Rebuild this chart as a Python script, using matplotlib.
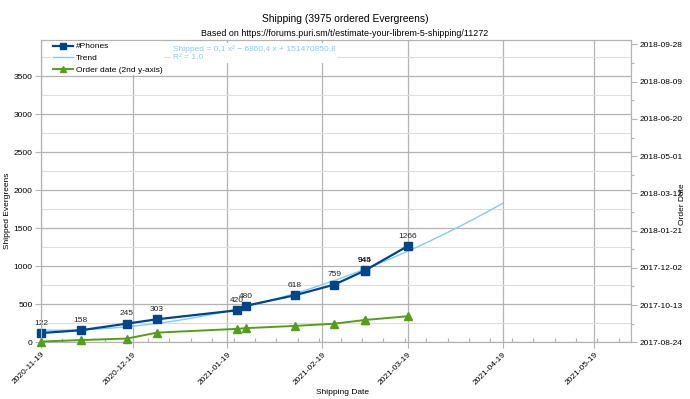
import numpy as np
import pandas as pd
import matplotlib
matplotlib.use("Agg")
import matplotlib.pyplot as plt
import matplotlib.dates as mdates
from matplotlib.ticker import MultipleLocator, FixedLocator
from matplotlib.lines import Line2D

plt.rcParams['font.family'] = ['Liberation Sans', 'DejaVu Sans']

# ---------------- data ----------------
ship_dates = ['2020-11-19', '2020-12-02', '2020-12-17', '2020-12-27', '2021-01-22',
              '2021-01-25', '2021-02-10', '2021-02-23', '2021-03-05', '2021-03-05', '2021-03-19']
shipped = [122, 158, 245, 303, 420, 480, 618, 759, 944, 945, 1266]
order_dates = ['2017-08-25', '2017-08-27', '2017-08-29', '2017-09-06', '2017-09-11',
               '2017-09-12', '2017-09-15', '2017-09-18', '2017-09-23', '2017-09-23', '2017-09-28']
order_ticks = ['2017-08-24', '2017-10-13', '2017-12-02', '2018-01-21', '2018-03-12',
               '2018-05-01', '2018-06-20', '2018-08-09', '2018-09-28']
x_range = ['2020-11-19', '2021-05-31']
order_top = '2018-10-04'
trend_end = '2021-04-19'
y_max = 3975
title = 'Shipping (3975 ordered Evergreens)'
subtitle = 'Based on https://forums.puri.sm/t/estimate-your-librem-5-shipping/11272'
equation = 'Shipped = 0,1 x² − 6860,4 x + 151470850,8\nR² = 1,0'

# ---------------- styling ----------------
BLUE = '#004586'
TREND = '#83caff'
GREEN = '#579d1c'
GRID = '#b3b3b3'
MINOR = '#dddddd'
FS = 6.0

W, H = 690, 399
fig = plt.figure(figsize=(W / 100, H / 100), dpi=100)
L, R, T, B = 41, 631, 40, 342.3
ax = fig.add_axes([L / W, 1 - B / H, (R - L) / W, (B - T) / H])

xd = pd.to_datetime(ship_dates)
od = pd.to_datetime(order_dates)

# trend (quadratic fit of the shipped series)
xnum = mdates.date2num(xd)
coef = np.polyfit(xnum, shipped, 2)
tx = np.linspace(mdates.date2num(pd.Timestamp(x_range[0])),
                 mdates.date2num(pd.Timestamp(trend_end)), 200)
ax.plot(tx, np.polyval(coef, tx), color=TREND, lw=1.0, zorder=3)

ax.plot(xd, shipped, color=BLUE, lw=1.6, marker='s', ms=5.5, mfc=BLUE, mec=BLUE, zorder=5,
        clip_on=False)
for d, v in zip(xd, shipped):
    ax.annotate(str(v), (d, v), xytext=(0, 4.5), textcoords='offset points',
                ha='center', va='bottom', fontsize=FS, color='#222222', zorder=6)

ax.set_xlim(pd.Timestamp(x_range[0]), pd.Timestamp(x_range[1]))
ax.set_ylim(0, y_max)
ax.yaxis.set_major_locator(MultipleLocator(500))
ax.yaxis.set_minor_locator(MultipleLocator(250))
ax.xaxis.set_major_locator(mdates.MonthLocator(bymonthday=19))
ax.xaxis.set_minor_locator(mdates.WeekdayLocator(byweekday=mdates.TH))
ax.xaxis.set_major_formatter(mdates.DateFormatter('%Y-%m-%d'))
ax.grid(True, which='major', color=GRID, lw=0.9)
ax.grid(True, which='minor', axis='y', color=MINOR, lw=0.8)
ax.set_axisbelow(True)
for s in ax.spines.values():
    s.set_color(GRID)
ax.tick_params(axis='both', which='major', labelsize=FS, color=GRID, length=4, width=0.8,
               pad=2)
ax.tick_params(axis='x', which='minor', direction='in', length=3, color=GRID, width=0.8)
ax.tick_params(axis='y', which='minor', length=0)
plt.setp(ax.get_xticklabels(), rotation=45, ha='right', rotation_mode='anchor')

# second y axis (order date)
ax2 = ax.twinx()
ax2.plot(xd, od, color=GREEN, lw=1.4, marker='^', ms=5.5, mfc=GREEN, mec=GREEN, zorder=4,
         clip_on=False)
ax2.set_ylim(pd.Timestamp(order_ticks[0]), pd.Timestamp(order_top))
tick_nums = mdates.date2num(pd.to_datetime(order_ticks))
ax2.yaxis.set_major_locator(FixedLocator(tick_nums))
ax2.yaxis.set_minor_locator(FixedLocator((tick_nums[:-1] + tick_nums[1:]) / 2))
ax2.yaxis.set_major_formatter(mdates.DateFormatter('%Y-%m-%d'))
ax2.tick_params(axis='y', which='major', labelsize=FS, color=GRID, length=4, width=0.8, pad=2)
ax2.tick_params(axis='y', which='minor', color=GRID, length=2, width=0.8)
for s in ax2.spines.values():
    s.set_color(GRID)
ax2.set_xlim(ax.get_xlim())

# texts
fig.text(345 / W, 1 - 19 / H, title, ha='center', va='center', fontsize=7.4)
fig.text(345 / W, 1 - 33 / H, subtitle, ha='center', va='center', fontsize=6.4)
fig.text(8 / W, 1 - 211 / H, 'Shipped Evergreens', rotation=90, ha='center', va='center',
         fontsize=FS)
fig.text(683 / W, 1 - 204 / H, 'Order Date', rotation=90, ha='center', va='center',
         fontsize=FS)
fig.text(343 / W, 1 - 392 / H, 'Shipping Date', ha='center', va='center', fontsize=FS)

handles = [Line2D([], [], color=BLUE, lw=1.6, marker='s', ms=5, mfc=BLUE),
           Line2D([], [], color=TREND, lw=1.0),
           Line2D([], [], color=GREEN, lw=1.4, marker='^', ms=5, mfc=GREEN)]
leg = fig.legend(handles, ['#Phones', 'Trend', 'Order date (2nd y-axis)'],
                 loc='upper left', bbox_to_anchor=(51 / W, 1 - 41 / H), fontsize=FS,
                 frameon=True, facecolor='white', edgecolor='none', framealpha=1,
                 handlelength=2.4, handletextpad=0.4, labelspacing=0.45,
                 borderpad=0.2, borderaxespad=0)
leg.set_zorder(10)

fig.text(173 / W, 1 - 53 / H, equation, ha='left', va='center', fontsize=FS, color=TREND,
         linespacing=1.1, bbox=dict(facecolor='white', edgecolor='none', pad=1.5), zorder=10)

fig.savefig('out.png', dpi=100)
